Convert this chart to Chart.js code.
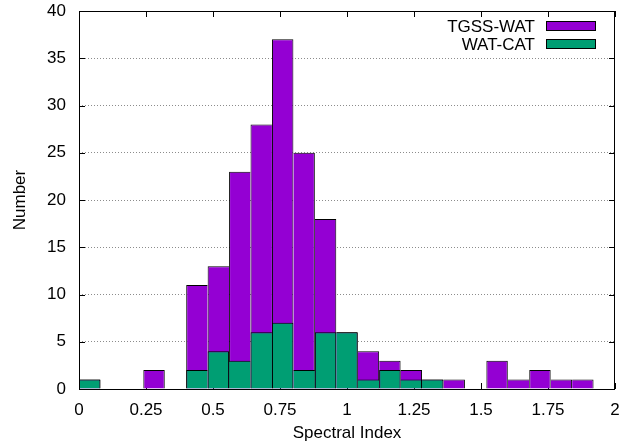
<!DOCTYPE html>
<html><head><meta charset="utf-8">
<script src="https://cdn.jsdelivr.net/npm/chart.js@4/dist/chart.umd.min.js"></script>
<style>html,body{margin:0;padding:0;background:#fff}canvas{display:block}</style>
</head><body>
<canvas id="c" width="624" height="447"></canvas>
<script>
const binCenters = [0.04,0.12,0.20,0.28,0.36,0.44,0.52,0.60,0.68,0.76,0.84,0.92,1.00,1.08,1.16,1.24,1.32,1.40,1.48,1.56,1.64,1.72,1.80,1.88];
const tgssWat = [1,0,0,2,0,11,13,23,28,37,25,18,6,4,3,2,1,1,0,3,1,2,1,1];
const watCat  = [1,0,0,0,0,2,4,3,6,7,2,6,6,1,2,1,1,0,0,0,0,0,0,0];
const seriesNames = ['TGSS-WAT','WAT-CAT'];
const seriesColors = ['#9400d3','#009e73'];
const xTickValues = [0,0.25,0.5,0.75,1,1.25,1.5,1.75,2];
const xTickLabels = ['0','0.25','0.5','0.75','1','1.25','1.5','1.75','2'];
const yTickValues = [0,5,10,15,20,25,30,35,40];
const yTickLabels = ['0','5','10','15','20','25','30','35','40'];

const FONT = 'Liberation Sans, Arial, sans-serif';
const FS = 17;

function toPoints(vals){ return vals.map((v,i)=>({x: binCenters[i], y: v === 0 ? null : v})); }
function edgeWidths(vals){
  return function(ctx){
    const i = ctx.dataIndex;
    const cur = vals[i] || 0;
    const prev = i > 0 ? (vals[i-1] || 0) : 0;
    const next = i < vals.length-1 ? (vals[i+1] || 0) : 0;
    return {top:1, bottom:0, left: (prev < cur) ? 1 : 0, right: (next <= cur) ? 1 : 0};
  };
}

const frameTicks = {
  id: 'frameTicks',
  beforeDatasetsDraw(chart){
    const ctx = chart.ctx, a = chart.chartArea;
    const xs = chart.scales.x, ys = chart.scales.y;
    ctx.save();
    ctx.strokeStyle = '#000'; ctx.lineWidth = 1;
    ctx.beginPath();
    xTickValues.forEach(v=>{
      const px = Math.round(xs.getPixelForValue(v)) + 0.5;
      ctx.moveTo(px, a.bottom); ctx.lineTo(px, a.bottom - 6);
      ctx.moveTo(px, a.top); ctx.lineTo(px, a.top + 6);
    });
    yTickValues.forEach(v=>{
      const py = Math.round(ys.getPixelForValue(v)) + 0.5;
      ctx.moveTo(a.left, py); ctx.lineTo(a.left + 6, py);
      ctx.moveTo(a.right, py); ctx.lineTo(a.right - 6, py);
    });
    ctx.stroke();
    ctx.restore();
  },
  afterDatasetsDraw(chart){
    const ctx = chart.ctx, a = chart.chartArea;
    ctx.save();
    ctx.strokeStyle = '#000'; ctx.lineWidth = 1;
    ctx.strokeRect(Math.round(a.left)+0.5, Math.round(a.top)+0.5, Math.round(a.right-a.left)-1, Math.round(a.bottom-a.top));
    // legend
    ctx.font = FS + 'px ' + FONT;
    ctx.textAlign = 'right'; ctx.textBaseline = 'middle';
    chart.data.datasets.forEach((ds, k)=>{
      const cy = 26 + k*18;
      ctx.fillStyle = '#000';
      ctx.fillText(ds.label, 535, cy+1);
      ctx.fillStyle = ds.backgroundColor;
      ctx.fillRect(546.5, cy-4.5, 49, 9);
      ctx.strokeRect(546.5, cy-4.5, 49, 9);
    });
    ctx.restore();
  }
};

new Chart(document.getElementById('c'), {
  type: 'bar',
  data: {
    datasets: [
      {label: seriesNames[0], data: toPoints(tgssWat), backgroundColor: seriesColors[0], borderColor: '#000', borderWidth: edgeWidths(tgssWat), borderSkipped: false, grouped: false, order: 2, categoryPercentage: 1, barPercentage: 1, inflateAmount: 0},
      {label: seriesNames[1], data: toPoints(watCat), backgroundColor: seriesColors[1], borderColor: '#000', borderWidth: edgeWidths(watCat), borderSkipped: false, grouped: false, order: 1, categoryPercentage: 1, barPercentage: 1, inflateAmount: 0}
    ]
  },
  options: {
    responsive: false,
    animation: false,
    devicePixelRatio: 1,
    layout: {padding: {top: 11, right: 9, left: 0, bottom: 0}},
    plugins: {legend: {display: false}, tooltip: {enabled: false}},
    scales: {
      x: {
        type: 'linear', min: 0, max: 2, offset: false,
        grid: {display: false, offset: false, drawTicks: false},
        border: {display: false},
        ticks: {stepSize: 0.25, padding: 11, color: '#000', font: {family: FONT, size: FS},
          maxRotation: 0, autoSkip: false,
          callback: (v)=>{ const i = xTickValues.indexOf(v); return i >= 0 ? xTickLabels[i] : ''; }},
        title: {display: true, text: 'Spectral Index', color: '#000', font: {family: FONT, size: FS}, padding: {top: 0, bottom: 3}},
        afterFit: (s)=>{ s.height = 58; s.paddingLeft = 0; s.paddingRight = 0; }
      },
      y: {
        min: 0, max: 40,
        grid: {color: '#8c8c8c', lineWidth: 1, drawTicks: false, borderDash: [1,2]},
        border: {display: false, dash: [1,2]},
        ticks: {stepSize: 5, padding: 13, color: '#000', font: {family: FONT, size: FS},
          callback: (v)=>{ const i = yTickValues.indexOf(v); return i >= 0 ? yTickLabels[i] : ''; }},
        title: {display: true, text: 'Number', color: '#000', font: {family: FONT, size: FS}, padding: {top: 10, bottom: 0}},
        afterFit: (s)=>{ s.width = 79; s.paddingTop = 0; s.paddingBottom = 0; }
      }
    }
  },
  plugins: [frameTicks]
});
</script>
</body></html>
